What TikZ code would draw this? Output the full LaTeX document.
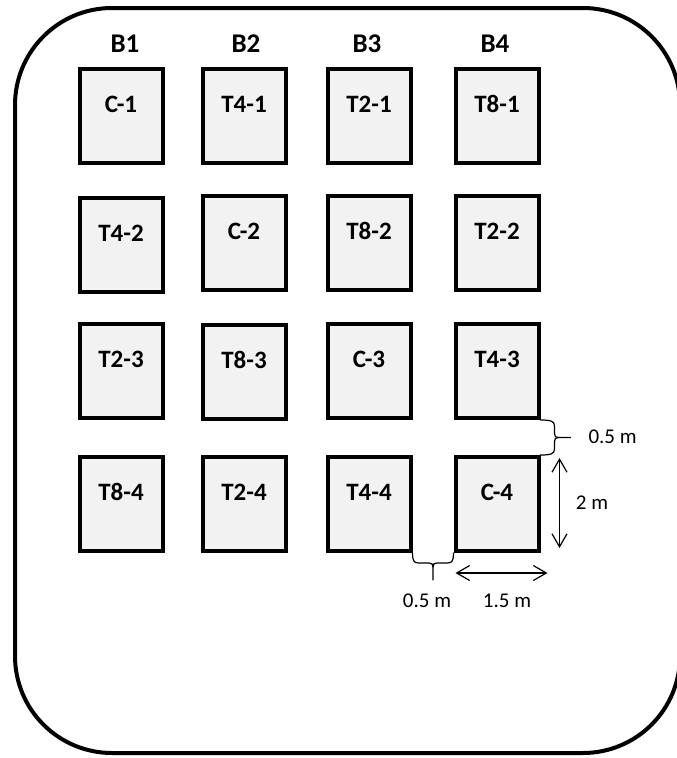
\documentclass[tikz,border=0pt]{standalone}
\usepackage{fontspec}
\setmainfont{Carlito}
\usetikzlibrary{arrows.meta,calc}
\definecolor{boxfill}{HTML}{F2F2F2}
\tikzset{
  plot/.style={draw=black, line width=4pt, fill=boxfill, minimum width=83pt, minimum height=94pt, inner sep=0pt},
  plab/.style={font=\fontsize{25}{25}\selectfont\bfseries, yshift=12pt},
  blockhead/.style={font=\fontsize{27}{27}\selectfont\bfseries},
  dimtext/.style={font=\fontsize{21}{21}\selectfont},
  dimarrow/.style={line width=1.2pt, {Straight Barb[length=13pt,width=15pt]}-{Straight Barb[length=13pt,width=15pt]}},
  bracestyle/.style={line width=1.2pt, line cap=round, line join=round}
}
\begin{document}
\begin{tikzpicture}[x=1pt,y=-1pt]
\useasboundingbox (0,0) rectangle (677,758);
\draw[line width=4pt, rounded corners=97pt] (15,8) rectangle (680,753);

\node[blockhead] (b1) at (125,44) {B1};
\node[blockhead] (b2) at (246,44) {B2};
\node[blockhead] (b3) at (367,44) {B3};
\node[blockhead] (b4) at (495,44) {B4};

% row 1
\node[plot, label={[plab]center:C-1}]  (C1)  at (121,116) {};
\node[plot, label={[plab]center:T4-1}] (T41) at (244,116) {};
\node[plot, label={[plab]center:T2-1}] (T21) at (369,116) {};
\node[plot, label={[plab]center:T8-1}] (T81) at (497,116) {};
% row 2
\node[plot, label={[plab]center:T4-2}] (T42) at (121,245) {};
\node[plot, label={[plab]center:C-2}]  (C2)  at (244,243) {};
\node[plot, label={[plab]center:T8-2}] (T82) at (369,243) {};
\node[plot, label={[plab]center:T2-2}] (T22) at (497,243) {};
% row 3
\node[plot, label={[plab]center:T2-3}] (T23) at (121,371) {};
\node[plot, label={[plab]center:T8-3}] (T83) at (244,372) {};
\node[plot, label={[plab]center:C-3}]  (C3)  at (369,371) {};
\node[plot, label={[plab]center:T4-3}] (T43) at (497,371) {};
% row 4
\node[plot, label={[plab]center:T8-4}] (T84) at (121,504) {};
\node[plot, label={[plab]center:T2-4}] (T24) at (244,504) {};
\node[plot, label={[plab]center:T4-4}] (T44) at (369,504) {};
\node[plot, label={[plab]center:C-4}]  (C4)  at (497,504) {};

% right brace (gap between T4-3 and C-4)
\coordinate (ra) at (T43.south east);
\coordinate (rb) at (C4.north east);
\coordinate (rm) at ($(ra)!0.5!(rb)$);
\draw[bracestyle] (ra) .. controls ($(ra)+(10,0)$) and ($(ra)+(14,1)$) .. ($(ra)+(14,6)$)
  -- ($(rm)+(14,-4)$) .. controls ($(rm)+(14,-1)$) and ($(rm)+(15,0)$) .. ($(rm)+(18,0)$)
  -- ($(rm)+(30,0)$);
\draw[bracestyle] ($(rm)+(18,0)$) .. controls ($(rm)+(15,0)$) and ($(rm)+(14,1)$) .. ($(rm)+(14,4)$)
  -- ($(rb)+(14,-6)$) .. controls ($(rb)+(14,-1)$) and ($(rb)+(10,0)$) .. (rb);

% bottom brace (gap between T4-4 and C-4)
\coordinate (ba) at (T44.south east);
\coordinate (bb) at (C4.south west);
\coordinate (bm) at ($(ba)!0.5!(bb)$);
\draw[bracestyle] (ba) .. controls ($(ba)+(0,7)$) and ($(ba)+(1,10)$) .. ($(ba)+(6,10)$)
  -- ($(bm)+(-4,10)$) .. controls ($(bm)+(-1,10)$) and ($(bm)+(0,11)$) .. ($(bm)+(0,14)$)
  -- ($(bm)+(0,27)$);
\draw[bracestyle] ($(bm)+(0,14)$) .. controls ($(bm)+(0,11)$) and ($(bm)+(1,10)$) .. ($(bm)+(4,10)$)
  -- ($(bb)+(-6,10)$) .. controls ($(bb)+(-1,10)$) and ($(bb)+(0,7)$) .. (bb);

% dimension arrows
\coordinate (va) at ($(C4.north east)+(19,3)$);
\coordinate (vb) at ($(C4.south east)+(19,-5)$);
\draw[dimarrow] (va) -- (vb);
\coordinate (ha) at ($(C4.south west)+(2,20)$);
\coordinate (hb) at ($(C4.south east)+(7,20)$);
\draw[dimarrow] (ha) -- (hb);

\node[dimtext, anchor=west] (d1) at (585,437) {0.5 m};
\node[dimtext] (d2) at (592,503) {2 m};
\node[dimtext] (d3) at (427,601) {0.5 m};
\node[dimtext] (d4) at (507,601) {1.5 m};
\end{tikzpicture}
\end{document}
